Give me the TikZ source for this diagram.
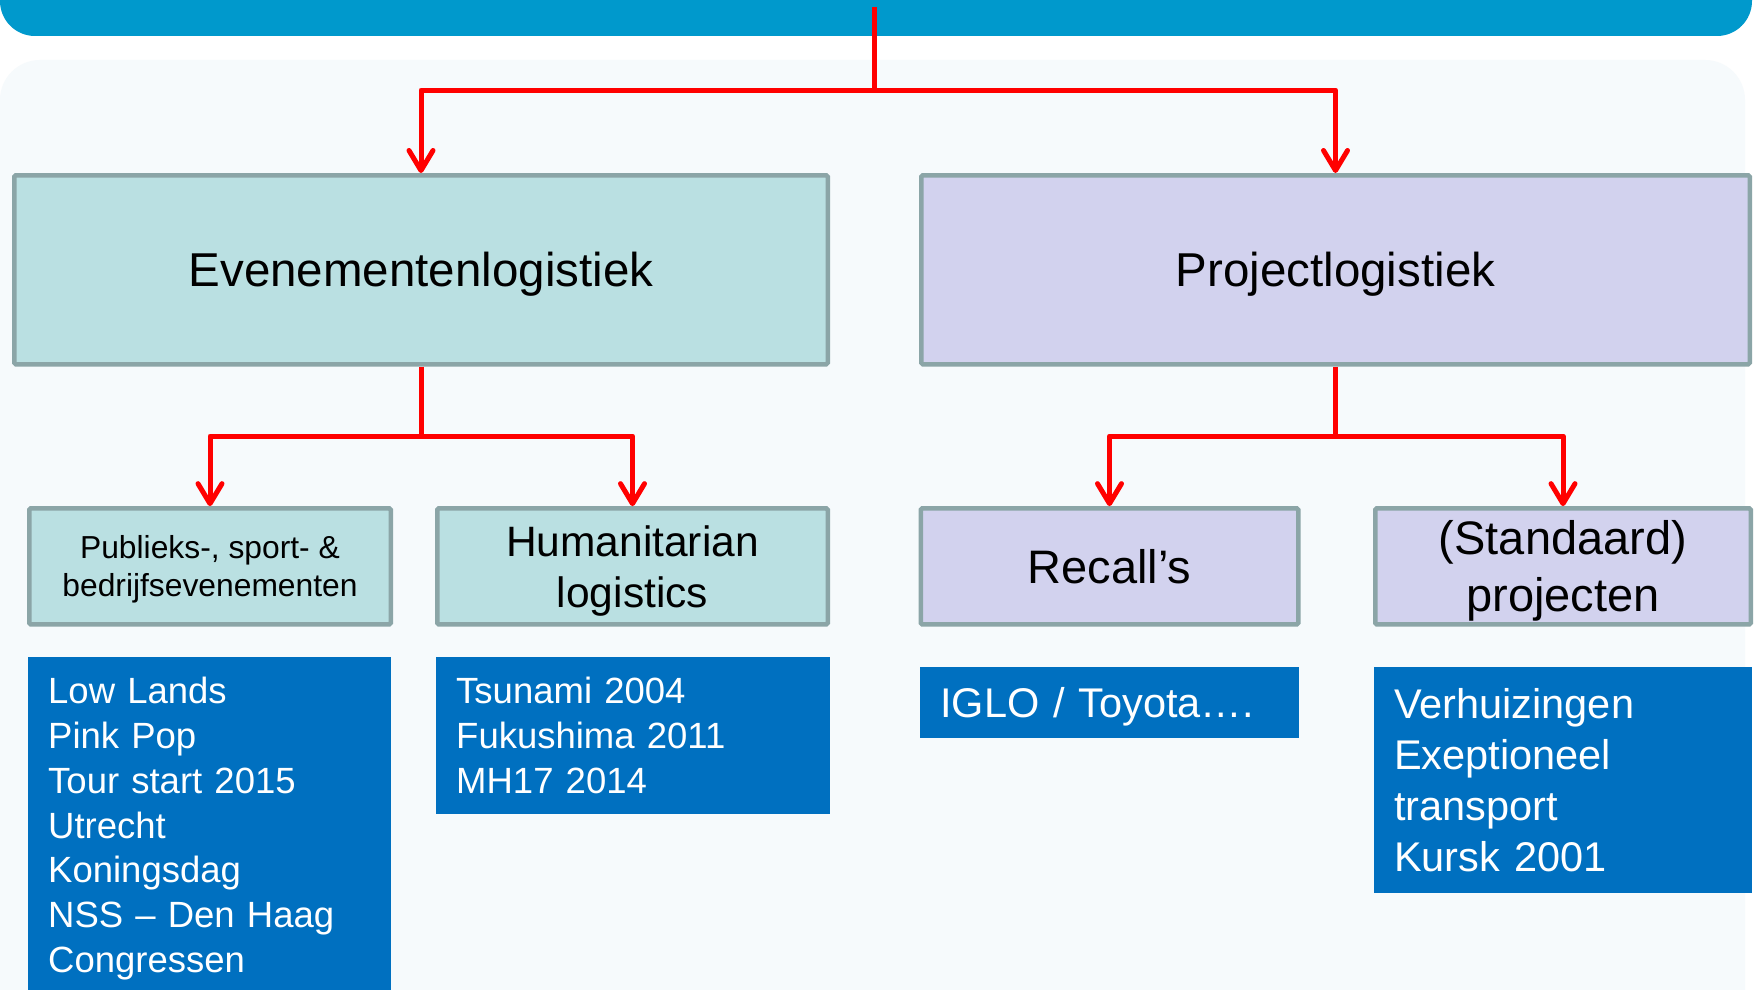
\documentclass[tikz,border=0pt]{standalone}
\usepackage{fontspec}
\setmainfont{Liberation Sans}
\usetikzlibrary{arrows.meta,calc}

\definecolor{balk}{RGB}{0,153,204}
\definecolor{paneel}{RGB}{246,250,252}
\definecolor{tealvak}{RGB}{186,224,226}
\definecolor{lilavak}{RGB}{210,210,238}
\definecolor{rand}{RGB}{139,165,167}
\definecolor{blauwvak}{RGB}{0,112,192}

\tikzset{
  vak/.style={draw=rand, line width=4.5pt, rounded corners=1.5pt, inner sep=0pt,
    text depth=0pt, align=center},
  hoofdvak/.style={vak, minimum height=189pt, font=\fontsize{47.5}{57}\selectfont},
  subvak/.style={vak, minimum height=116pt},
  voorbeeld/.style={fill=blauwvak, text=white, anchor=north west, inner xsep=20pt,
    inner ysep=20pt, align=left},
  rodelijn/.style={draw=red, line width=5pt, line join=round},
  pijl/.style={rodelijn, -{Straight Barb[length=20pt,width=24pt,round]}}
}

\begin{document}
\begin{tikzpicture}[x=1pt,y=-1pt]
  % achtergrond en titelbalk
  \clip (0,0) rectangle (1758,990);
  \fill[white] (0,0) rectangle (1758,990);
  \fill[paneel, rounded corners=40pt] (0,60) rectangle (1745,1100);
  \fill[balk, rounded corners=35pt] (0,-60) rectangle (1752,36);

  % hoofdvakken
  \node[hoofdvak, fill=tealvak, minimum width=813.5pt] (evenementen) at (421,269.75) {Evenementenlogistiek};
  \node[hoofdvak, fill=lilavak, minimum width=828.5pt] (project) at (1335.5,269.75) {Projectlogistiek};

  % subvakken
  \node[subvak, fill=tealvak, minimum width=361.5pt, font=\fontsize{31.8}{38}\selectfont] (publieks) at (210,566.4) {Publieks-, sport- \&\\bedrijfsevenementen};
  \node[subvak, fill=tealvak, minimum width=390.5pt, font=\fontsize{42.5}{50.5}\selectfont] (humanitarian) at (632.5,566.4) {Humanitarian\\logistics};
  \node[subvak, fill=lilavak, minimum width=377.5pt, font=\fontsize{47}{57}\selectfont] (recalls) at (1109.5,566.4) {Recall’s};
  \node[subvak, fill=lilavak, minimum width=375.5pt, font=\fontsize{47}{57}\selectfont] (standaard) at (1563,566.4) {(Standaard)\\projecten};

  % voorbeelden
  \node[voorbeeld, text width=323pt, font=\fontsize{36.5}{44.8}\selectfont] (lowlands) at (28,657) {Low Lands\\Pink Pop\\Tour start 2015\\Utrecht\\Koningsdag\\NSS – Den Haag\\Congressen};
  \node[voorbeeld, text width=354pt, minimum height=155pt, font=\fontsize{36.5}{44.8}\selectfont] (tsunami) at (436,657) {Tsunami 2004\\Fukushima 2011\\MH17 2014};
  \node[voorbeeld, text width=339pt, minimum height=71pt, text depth=0pt, font=\fontsize{41.5}{50.8}\selectfont] (iglo) at (920,667) {IGLO / Toyota….};
  \node[voorbeeld, text width=338pt, minimum height=226pt, font=\fontsize{41.5}{50.8}\selectfont] (verhuizingen) at (1374,667) {Verhuizingen\\Exeptioneel\\transport\\Kursk 2001};

  % verbindingen
  \coordinate (wortel) at (874.5,7);
  \coordinate (splitsing) at (874.5,90);
  \coordinate (splitsinglinks) at ($(evenementen.south)+(0,69.5)$);
  \coordinate (splitsingrechts) at ($(project.south)+(0,69.5)$);
  \draw[rodelijn] (wortel) -- (splitsing);
  \draw[pijl] (splitsing) -| (evenementen.north);
  \draw[pijl] (splitsing) -| (project.north);
  \draw[rodelijn] (evenementen.south) -- (splitsinglinks);
  \draw[pijl] (splitsinglinks) -| (publieks.north);
  \draw[pijl] (splitsinglinks) -| (humanitarian.north);
  \draw[rodelijn] (project.south) -- (splitsingrechts);
  \draw[pijl] (splitsingrechts) -| (recalls.north);
  \draw[pijl] (splitsingrechts) -| (standaard.north);
\end{tikzpicture}
\end{document}
